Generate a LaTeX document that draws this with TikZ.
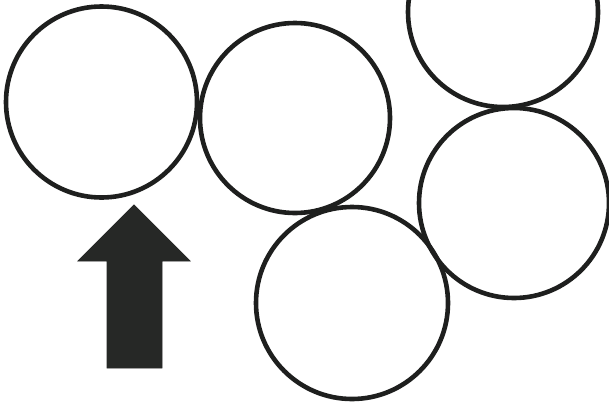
\documentclass[tikz,border=0pt]{standalone}
\begin{document}
\begin{tikzpicture}[x=1pt,y=-1pt,
  ring/.style={circle,draw=ringcol,line width=4.6pt,minimum size=190pt,inner sep=0pt,outer sep=0pt},
  bigarrow/.style={fill=arrowcol,draw=arrowcol,line width=0.8pt,line join=miter}]
\definecolor{ringcol}{HTML}{1E1F1E}
\definecolor{arrowcol}{HTML}{262826}
\clip (0,0) rectangle (609,410);
\useasboundingbox (0,0) rectangle (609,410);
\node[ring,minimum size=191pt] (c1) at (101.5,102) {};
\node[ring] (c2) at (295,118) {};
\node[ring] (c3) at (503,12) {};
\node[ring] (c4) at (514,203) {};
\node[ring,minimum size=192pt] (c5) at (352,303) {};
\coordinate (tip) at (134,205);
\draw[bigarrow] (tip) -- (190,261) -- (162,261) -- (162,368) -- (107,368) -- (107,261) -- (78,261) -- cycle;
\end{tikzpicture}
\end{document}
